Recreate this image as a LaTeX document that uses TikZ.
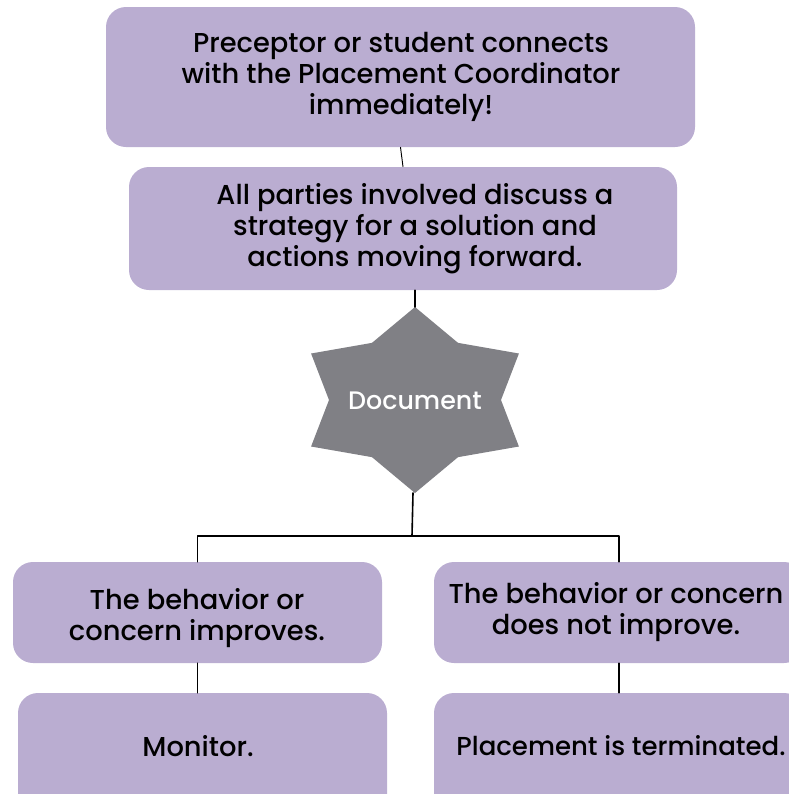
\documentclass[tikz,border=0pt]{standalone}
\usepackage{fontspec}
\setmainfont{Poppins Medium}
\definecolor{lavbox}{rgb}{0.73,0.68,0.82}
\definecolor{stargray}{rgb}{0.50,0.50,0.52}
\tikzset{
  box/.style={fill=lavbox,rounded corners=15pt,inner sep=0pt},
  boxtext/.style={align=center,font=\fontsize{20.5}{23.3}\selectfont,inner sep=0pt},
  link/.style={line width=1.2pt},
}
\begin{document}
\begin{tikzpicture}[line cap=round,line join=round,x=0.75pt,y=-0.75pt]
	\useasboundingbox (0,0) rectangle (789,794);
	\clip (0,0) rectangle (789,794);
	% top boxes
	\node[box,minimum width=589*0.75pt,minimum height=140*0.75pt] (b1) at (400.5,77) {};
	\node[boxtext] at (401,77) {Preceptor or student connects\\with the Placement Coordinator\\immediately!};
	\node[box,minimum width=548*0.75pt,minimum height=123*0.75pt] (b2) at (403,228.5) {};
	\node[boxtext] at (415,229) {All parties involved discuss a\\strategy for a solution and\\actions moving forward.};
	\draw[line width=0.7pt] (b1.south) -- (b2.north);
	% star
	\fill[stargray] (415,307)
	  \foreach \a in {120,150,...,420} {
	    -- ({415+(mod(\a,60)==30 ? 120 : 86)*cos(\a)},{400-(mod(\a,60)==30 ? 93 : 66)*sin(\a)})
	  } -- cycle;
	\node[text=white,font=\fontsize{19}{22}\selectfont] (doc) at (415,401) {Document};
	\coordinate (startop) at (415,307);
	\coordinate (starbot) at (413,493);
	\coordinate (fork) at (412,536);
	\draw[link] (b2.south -| startop) -- (startop);
	% lower boxes
	\node[box,minimum width=369*0.75pt,minimum height=101*0.75pt] (b3) at (197.5,612.5) {};
	\node[boxtext] at (197,618) {The behavior or\\concern improves.};
	\node[box,minimum width=369*0.75pt,minimum height=130*0.75pt] (b4) at (202.5,758) {};
	\node[boxtext] at (198,746) {Monitor.};
	\node[box,minimum width=370*0.75pt,minimum height=101*0.75pt] (b5) at (619,612.5) {};
	\node[boxtext] at (616,612) {The behavior or concern\\does not improve.};
	\node[box,minimum width=370*0.75pt,minimum height=130*0.75pt] (b6) at (619,758) {};
	\node[boxtext,font=\fontsize{19.5}{23.3}\selectfont] at (621,746) {Placement is terminated.};
	\draw[link] (starbot) -- (fork);
	\draw[link] (b3.north) |- (fork) -| (b5.north);
	\draw[link] (b3.south) -- (b3.south |- b4.north);
	\draw[link] (b5.south) -- (b5.south |- b6.north);
\end{tikzpicture}
\end{document}
